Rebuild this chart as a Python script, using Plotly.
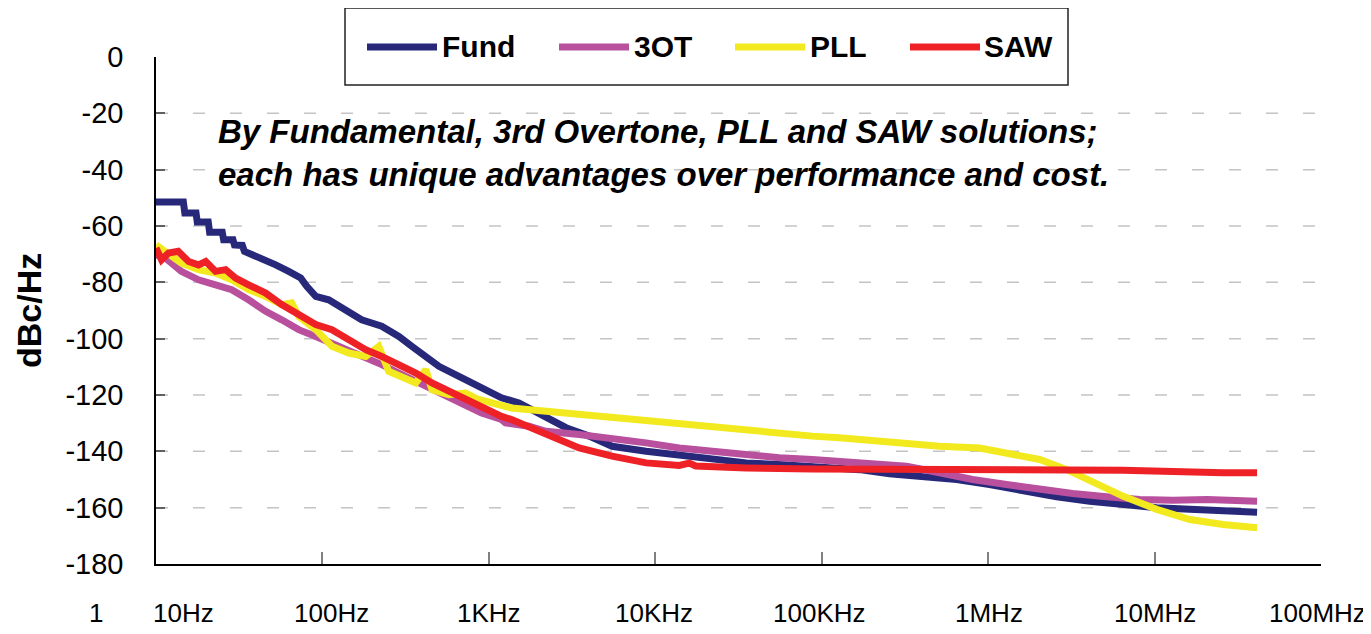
import math
import plotly.graph_objects as go

# ---------------- data (frequency in Hz, phase noise in dBc/Hz) ----------------
fund_f = [10, 14.6, 14.9, 17.4, 17.7, 20.6, 21.0, 25.0, 25.5, 29.0, 29.6, 33.0, 34, 43.2, 52.4,
          62.7, 74, 80.5, 91.2, 109, 138, 172, 227, 288, 344, 418, 501, 661, 868, 1191, 1517,
          2203, 2908, 4000, 5502, 8814, 13930, 21990, 35240, 55610, 87900, 168700, 255500,
          371500, 646900, 1.02e6, 1.61e6, 2.58e6, 4.08e6, 6.44e6, 1.03e7, 1.63e7, 2.58e7, 4.13e7]
fund_db = [-51.5, -51.5, -55.4, -55.4, -58.6, -58.6, -62.2, -62.2, -64.9, -64.9, -66.7, -66.9,
           -69, -71.3, -73.8, -76.1, -78.4, -81.4, -85, -86.2, -89.7, -93.3, -95.6, -99.2, -102.7,
           -106.3, -109.8, -113.4, -116.9, -121, -122.8, -128, -131.6, -134.6, -138.2, -140,
           -141.5, -142.9, -144.1, -144.7, -145.5, -146.5, -148, -148.6, -150, -151.8, -154.1,
           -156.1, -157.7, -158.9, -160, -160.6, -160.9, -161.6]

ot3_f = [10, 11.4, 14.2, 18, 22.8, 28.5, 36, 45.6, 56.9, 72, 91.2, 114, 144, 182, 227, 288, 364,
         455, 575, 725, 904, 1191, 1259, 1742, 2203, 3486, 5502, 8814, 13930, 21990, 35240, 55610,
         87900, 168700, 323500, 510600, 807600, 1.29e6, 2.04e6, 3.22e6, 5.14e6, 8.16e6, 1.29e7,
         2.07e7, 4.13e7]
ot3_db = [-70.2, -71.4, -76.1, -79.1, -80.9, -82.6, -86.2, -90.3, -93.3, -96.8, -99.2, -101.5,
          -103.9, -106.8, -109.2, -112.2, -115.1, -118.1, -121, -124, -126.4, -128.7, -129.9,
          -131.1, -132.9, -134, -135.2, -137, -138.8, -140, -141.5, -142.3, -142.9, -144.1,
          -145.3, -147.6, -150, -151.8, -153.5, -155, -156.1, -157.1, -157.4, -157.1, -157.7]

pll_f = [10, 11.4, 14.2, 18, 22.8, 28.5, 36, 45.6, 56.9, 65.3, 72, 91.2, 114, 144, 182, 218, 250,
         364, 418, 455, 575, 725, 868, 1368, 2203, 3486, 5502, 8814, 13930, 21990, 35240, 55610,
         87900, 127900, 168700, 255500, 510600, 889600, 1.29e6, 2.04e6, 2.97e6, 4.08e6, 6.44e6,
         1.03e7, 1.63e7, 2.58e7, 4.13e7]
pll_db = [-66.7, -69, -73.2, -75.5, -76.7, -79.1, -82.6, -85, -87.9, -87.3, -92.1, -96.8, -102.7,
          -105.1, -106.3, -102.7, -111.6, -115.7, -111, -118.1, -119.9, -119.3, -121.6, -124.6,
          -125.8, -126.9, -128.2, -129.3, -130.5, -131.3, -132.3, -133.5, -134.6, -135.2, -135.8,
          -137, -138.2, -138.8, -140.5, -142.9, -146.5, -150.6, -155.9, -160.6, -164.2, -166, -167.1]

saw_f = [10, 10.8, 11.9, 13.6, 15.7, 18, 19.9, 22.8, 26.2, 30.1, 36, 45.6, 56.9, 72, 91.2, 114,
         144, 182, 227, 288, 364, 455, 575, 725, 904, 1191, 1368, 2203, 3486, 5502, 8814, 13930,
         15990, 17500, 21990, 35240, 87900, 1.0e6, 6.44e6, 2.58e7, 4.13e7]
saw_db = [-67.8, -72, -69.6, -69, -72.6, -73.8, -72.6, -76.1, -75.5, -78.5, -80.9, -83.8, -87.9,
          -91.5, -95, -96.8, -100.4, -103.9, -106.3, -109.2, -112.2, -115.7, -118.7, -121.6,
          -124.6, -127.6, -128.7, -134, -138.8, -141.7, -144.1, -145, -144.2, -145.2, -145.5,
          -145.9, -146.3, -146.3, -146.7, -147.6, -147.6]

series_names = ["Fund", "3OT", "PLL", "SAW"]
series_colors = ["#27287A", "#B8509E", "#F2EA1E", "#EE2226"]

x_tick_freqs = [10, 100, 1e3, 1e4, 1e5, 1e6, 1e7, 1e8]
x_tick_text = ["10Hz", "100Hz", "1KHz", "10KHz", "100KHz", "1MHz", "10MHz", "100MHz"]
x_tick_shift = [27, 9, 0, -1, -2, 1, 0, -4]
y_tick_vals = [0, -20, -40, -60, -80, -100, -120, -140, -160, -180]
y_tick_text = ["0", "-20", "-40", "-60", "-80", "-100", "-120", "-140", "-160", "-180"]
grid_vals = [-20, -40, -60, -80, -100, -120, -140, -160]

note_text = ("By Fundamental, 3rd Overtone, PLL and SAW solutions;<br>"
             "each has unique advantages over performance and cost.")

# ---------------- layout geometry ----------------
# the page body adds an 8px margin, so the figure is made 8px smaller
OFF = 8
W, H = 1371, 634
PL, PR, PT, PB = 156, 1321, 57, 564
FONT = "Liberation Sans, Arial, sans-serif"


def px(x):
    return (x - PL) / (PR - PL)


def py(y):
    return (PB - y) / (PB - PT)


fig = go.Figure()
all_f = [fund_f, ot3_f, pll_f, saw_f]
all_db = [fund_db, ot3_db, pll_db, saw_db]
for name, col, f, d in zip(series_names, series_colors, all_f, all_db):
    fig.add_trace(go.Scatter(x=f, y=d, mode="lines", name=name,
                             line=dict(color=col, width=7),
                             showlegend=False, cliponaxis=False))

shapes = []
for g in grid_vals:
    shapes.append(dict(type="line", xref="paper", yref="y", x0=0, x1=1, y0=g, y1=g,
                       line=dict(color="#C4C4C4", width=1.5, dash="12px,25px"), layer="below"))

# legend box and swatches
shapes.append(dict(type="rect", xref="paper", yref="paper",
                   x0=px(345), x1=px(1068), y0=py(85), y1=py(8),
                   line=dict(color="#222222", width=1.5), fillcolor="white"))
leg_line_x = [367, 559, 735, 910]
leg_text_x = [440, 632, 808, 982]
annotations = []
for name, col, lx, tx in zip(series_names, series_colors, leg_line_x, leg_text_x):
    shapes.append(dict(type="line", xref="paper", yref="paper",
                       x0=px(lx), x1=px(lx + 70), y0=py(47), y1=py(47),
                       line=dict(color=col, width=7)))
    annotations.append(dict(xref="paper", yref="paper", x=px(tx), y=py(47),
                            xanchor="left", yanchor="middle", showarrow=False, text=name,
                            font=dict(family=FONT, size=30, color="black", weight="bold")))

# x tick labels
for f, t, s in zip(x_tick_freqs, x_tick_text, x_tick_shift):
    annotations.append(dict(xref="x", yref="paper", x=math.log10(f), y=py(613), xshift=s,
                            xanchor="center", yanchor="middle", showarrow=False, text=t,
                            font=dict(family=FONT, size=26, color="black")))
annotations.append(dict(xref="paper", yref="paper", x=px(105), y=py(613),
                        xanchor="right", yanchor="middle", showarrow=False, text="1",
                        font=dict(family=FONT, size=26, color="black")))

# y-axis title
annotations.append(dict(xref="paper", yref="paper", x=px(29), y=py(311), textangle=-90,
                        xanchor="center", yanchor="middle", showarrow=False, text="dBc/Hz",
                        font=dict(family=FONT, size=34, color="black", weight="bold")))

# note text
annotations.append(dict(xref="paper", yref="paper", x=px(216), y=py(153),
                        xanchor="left", yanchor="middle", align="left", showarrow=False,
                        text=note_text,
                        font=dict(family=FONT, size=33, color="black", weight="bold",
                                  style="italic")))

fig.update_layout(
    width=W - OFF, height=H - OFF,
    margin=dict(l=PL - OFF, r=W - PR, t=PT - OFF, b=H - PB, pad=0),
    paper_bgcolor="white", plot_bgcolor="white",
    showlegend=False,
    shapes=shapes, annotations=annotations,
    xaxis=dict(type="log", range=[1, 8], tickvals=x_tick_freqs, showticklabels=False,
               ticks="inside", ticklen=12, tickcolor="#808080", tickwidth=1.5,
               showgrid=False, zeroline=False, showline=True, linecolor="black", linewidth=1.5),
    yaxis=dict(range=[-180, 0], tickvals=y_tick_vals, ticktext=y_tick_text, ticks="inside",
               ticklen=9, tickcolor="#606060", tickwidth=1.5, showgrid=False, zeroline=False,
               showline=True, linecolor="black", linewidth=1.5,
               tickfont=dict(family=FONT, size=29, color="black"), ticklabelstandoff=25),
)

fig.write_html("out.html")
